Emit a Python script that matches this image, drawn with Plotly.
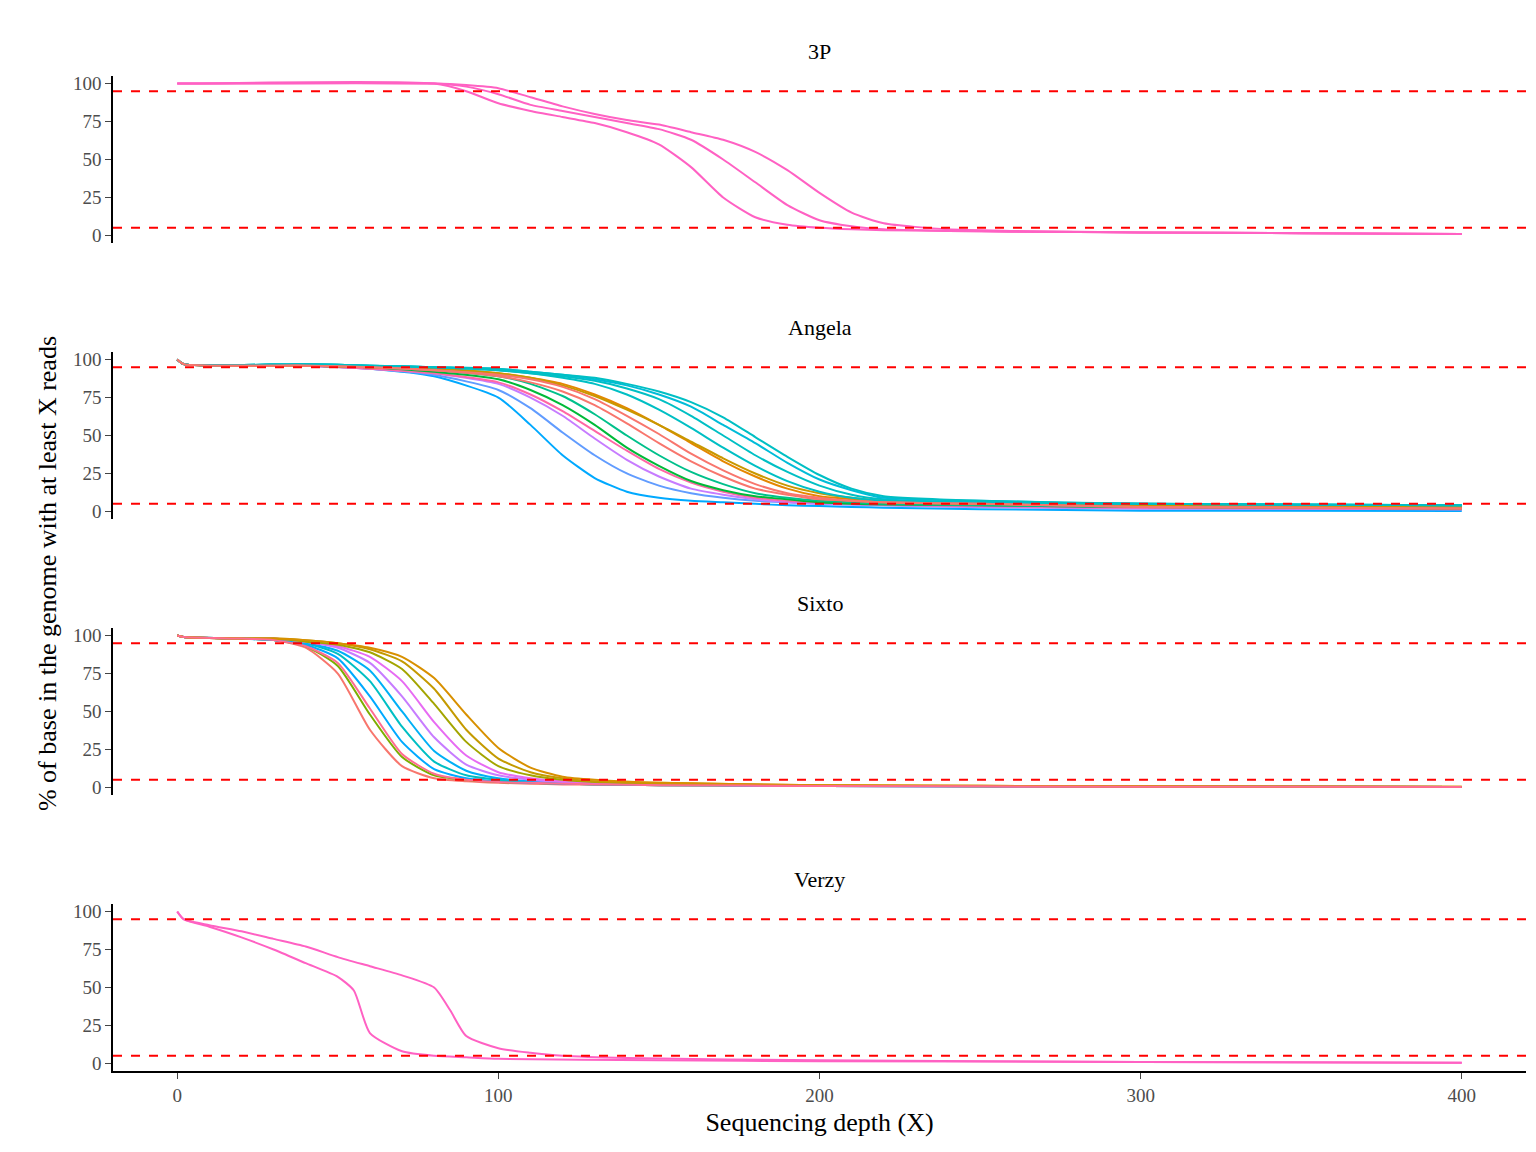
import plotly.graph_objects as go
from plotly.subplots import make_subplots

# ---- data ----
panels = ["3P", "Angela", "Sixto", "Verzy"]

p3_x = [0, 80, 90, 100, 110, 120, 130, 140, 150, 160, 170, 180, 190, 200, 210, 220, 240, 260, 300, 350, 400]
p3_curves = [
    [100, 100, 95, 87, 82, 78, 74, 68, 60, 45, 25, 12, 7, 5, 4, 3.5, 3, 2.5, 2, 1.5, 1],
    [100, 100, 98, 93, 86, 82, 78, 74, 70, 63, 50, 35, 20, 10, 6, 4, 3, 2.5, 2, 1.5, 1],
    [100, 100, 99, 97, 91, 85, 80, 76, 73, 68, 63, 55, 43, 28, 15, 8, 4, 3, 2, 1.5, 1],
]
p3_colors = ["#FF61C3", "#FF61C3", "#FF61C3"]

ang_x = [0, 2, 40, 60, 80, 100, 110, 120, 130, 140, 150, 160, 170, 180, 190, 200, 210, 220, 250, 300, 400]
ang_curves = [
    [100, 97, 96, 94, 89, 75, 57, 37, 22, 13, 9, 7, 6, 5, 4, 3.5, 3, 2.5, 1.5, 0.5, 0.3],
    [100, 97, 96, 94, 90, 80, 68, 52, 37, 25, 17, 12, 9, 7, 6, 5, 4.5, 4, 3, 2, 1.5],
    [100, 97, 96, 94, 91, 84, 75, 63, 48, 34, 23, 15, 11, 8, 6, 5, 4.5, 4, 3, 2, 1.5],
    [100, 97, 96, 94, 91, 85, 77, 66, 53, 40, 28, 19, 13, 9, 7, 6, 5, 4.5, 3.5, 2.5, 1.5],
    [100, 97, 96, 95, 92, 87, 80, 70, 57, 42, 30, 20, 14, 10, 8, 6, 5, 4.5, 4, 3, 2],
    [100, 97, 96, 95, 93, 89, 84, 76, 64, 50, 37, 26, 18, 12, 9, 7, 6, 5, 4, 3, 2.5],
    [100, 97, 96, 95, 94, 91, 88, 84, 77, 68, 57, 45, 33, 23, 15, 10, 8, 6, 5, 4, 3],
    [100, 97, 96, 95, 94, 91, 88, 83, 76, 67, 57, 46, 35, 25, 17, 12, 9, 7, 5, 4, 3],
    [100, 97, 97, 96, 95, 93, 91, 88, 84, 77, 67, 55, 42, 30, 20, 13, 9, 7, 6, 5, 4],
    [100, 97, 97, 96, 95, 93, 91, 89, 86, 81, 74, 63, 50, 37, 26, 17, 11, 8, 6, 5, 4],
    [100, 97, 97, 96, 95, 94, 92, 90, 87, 83, 77, 69, 57, 45, 32, 21, 14, 9, 7, 5, 4],
    [100, 97, 97, 96, 95, 94, 92, 90, 88, 84, 79, 72, 62, 49, 36, 24, 15, 10, 7, 5, 4],
    [100, 97, 96, 95, 93, 89, 85, 79, 70, 58, 45, 33, 23, 15, 11, 8, 7, 6, 5, 3, 2],
    [100, 97, 96, 95, 93, 90, 87, 82, 74, 63, 51, 38, 27, 18, 12, 9, 7, 6, 5, 3, 2],
]
ang_colors = ["#00A9FF", "#619CFF", "#C77CFF", "#FF67A4", "#00BA38", "#00C08B",
              "#E58700", "#C99800", "#00BFC4", "#00BFC4", "#00BCD8", "#00BFC4",
              "#F8766D", "#F8766D"]

six_x = [0, 2, 20, 30, 40, 50, 60, 70, 80, 90, 100, 110, 120, 130, 150, 200, 300, 400]
six_curves = [
    [100, 99, 98, 97, 92, 75, 38, 14, 6, 4, 3, 2.5, 2, 2, 1.5, 1, 0.5, 0.3],
    [100, 99, 98, 97, 93, 80, 48, 20, 8, 5, 3.5, 3, 2.5, 2, 1.5, 1, 0.5, 0.3],
    [100, 99, 98, 97, 94, 85, 60, 30, 12, 6, 4, 3, 2.5, 2, 1.5, 1, 0.5, 0.3],
    [100, 99, 98, 97, 95, 88, 70, 40, 17, 8, 5, 3.5, 3, 2.5, 2, 1, 0.5, 0.3],
    [100, 99, 98, 97, 95, 90, 77, 50, 24, 11, 6, 4, 3, 2.5, 2, 1, 0.5, 0.3],
    [100, 99, 98, 98, 96, 92, 82, 60, 33, 15, 8, 5, 3.5, 3, 2, 1, 0.5, 0.3],
    [100, 99, 98, 98, 96, 93, 86, 70, 43, 21, 10, 6, 4, 3, 2, 1, 0.5, 0.3],
    [100, 99, 98, 98, 96, 94, 89, 78, 55, 30, 14, 8, 5, 3.5, 2.5, 1.2, 0.6, 0.3],
    [100, 99, 98, 98, 97, 95, 91, 83, 65, 38, 19, 10, 6, 4, 3, 1.5, 0.8, 0.4],
    [100, 99, 98, 98, 97, 95, 92, 86, 72, 48, 26, 13, 7, 5, 3, 1.5, 0.8, 0.4],
    [100, 99, 98, 97, 93, 82, 52, 22, 9, 5, 3.5, 3, 2.5, 2, 1.5, 1, 0.5, 0.3],
]
six_colors = ["#F8766D", "#7CAE00", "#00A9FF", "#00BFC4", "#00B0F6", "#C77CFF",
              "#E76BF3", "#A3A500", "#C49A00", "#D89000", "#FF6C91"]

vz_x1 = [0, 2, 10, 20, 30, 40, 50, 55, 60, 70, 80, 90, 100, 150, 200, 300, 400]
vz_y1 = [100, 95, 90, 83, 75, 66, 57, 48, 20, 8, 5, 4, 3, 2, 1.5, 1, 0.5]
vz_x2 = [0, 2, 10, 20, 30, 40, 50, 60, 70, 80, 85, 90, 100, 110, 120, 140, 200, 300, 400]
vz_y2 = [100, 95, 91, 87, 82, 77, 70, 64, 58, 50, 35, 18, 10, 7, 5, 3.5, 2, 1, 0.5]

hlines = [95, 5]

# ---- figure ----
fig = make_subplots(rows=4, cols=1, shared_xaxes=True, vertical_spacing=0.1095,
                    subplot_titles=panels)

def add(row, xs, ys, color):
    fig.add_trace(go.Scatter(x=xs, y=ys, mode="lines", line=dict(color=color, width=2, shape="spline", smoothing=0.6),
                             showlegend=False, hoverinfo="skip"), row=row, col=1)

for ys, c in zip(p3_curves, p3_colors):
    add(1, p3_x, ys, c)
for ys, c in zip(ang_curves, ang_colors):
    add(2, ang_x, ys, c)
for ys, c in zip(six_curves, six_colors):
    add(3, six_x, ys, c)
add(4, vz_x1, vz_y1, "#FF61C3")
add(4, vz_x2, vz_y2, "#FF61C3")

for r in range(1, 5):
    for h in hlines:
        fig.add_hline(y=h, line=dict(color="red", width=2, dash="dash"), row=r, col=1)
    fig.update_yaxes(range=[-5, 105], tickvals=[0, 25, 50, 75, 100], showline=True, linecolor="black",
                     linewidth=1.5, ticks="outside", ticklen=6, showgrid=False, zeroline=False,
                     tickfont=dict(size=19, color="#4d4d4d"), row=r, col=1)
    fig.update_xaxes(range=[-20, 420], tickvals=[0, 100, 200, 300, 400], showgrid=False, zeroline=False,
                     row=r, col=1)
fig.update_xaxes(showline=True, linecolor="black", linewidth=1.5, ticks="outside", ticklen=6,
                 tickfont=dict(size=19, color="#4d4d4d"), row=4, col=1)
fig.update_xaxes(title=dict(text="Sequencing depth (X)", font=dict(size=26, color="black"), standoff=8),
                 row=4, col=1)

fig.update_annotations(font=dict(size=22, color="black"), yshift=10)
fig.add_annotation(text="% of base in the genome with at least X reads", xref="paper", yref="paper",
                   x=-0.058, y=0.5, textangle=-90, showarrow=False, font=dict(size=26, color="black"))

fig.update_layout(width=1536, height=1152, plot_bgcolor="white", paper_bgcolor="white",
                  font=dict(family="Liberation Serif"),
                  margin=dict(l=105, r=18, t=68, b=89))

fig.write_html("out.html")
